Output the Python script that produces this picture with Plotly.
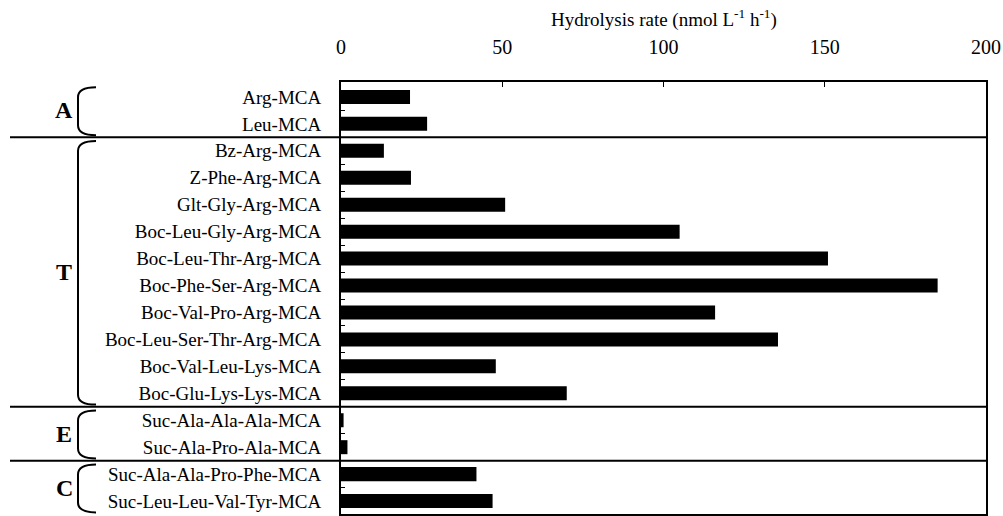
import plotly.graph_objects as go

substrates = [
    "Arg-MCA", "Leu-MCA",
    "Bz-Arg-MCA", "Z-Phe-Arg-MCA", "Glt-Gly-Arg-MCA", "Boc-Leu-Gly-Arg-MCA",
    "Boc-Leu-Thr-Arg-MCA", "Boc-Phe-Ser-Arg-MCA", "Boc-Val-Pro-Arg-MCA",
    "Boc-Leu-Ser-Thr-Arg-MCA", "Boc-Val-Leu-Lys-MCA", "Boc-Glu-Lys-Lys-MCA",
    "Suc-Ala-Ala-Ala-MCA", "Suc-Ala-Pro-Ala-MCA",
    "Suc-Ala-Ala-Pro-Phe-MCA", "Suc-Leu-Leu-Val-Tyr-MCA",
]
rates = [21.4, 26.7,
         13.3, 21.7, 50.9, 105.0, 151.0, 185.0, 116.0, 135.5, 48.0, 70.0,
         0.8, 2.0,
         42.0, 47.0]
groups = ["A", "T", "E", "C"]
group_sizes = [2, 10, 2, 2]
x_ticks = [0, 50, 100, 150, 200]

SERIF = "Liberation Serif, Times New Roman, serif"
W, H = 1003, 516
ML, MR, MT, MB = 341, 17, 82, 0
PW, PH = W - ML - MR, H - MT - MB
Y_TOP, Y_BOT = -0.554, 15.48  # category units at top / bottom of plot


def px_x(px):
    return (px - ML) / PW


def yp(v):
    return (Y_BOT - v) / (Y_BOT - Y_TOP)


fig = go.Figure()
fig.add_trace(go.Bar(
    x=rates, y=list(range(len(substrates))), orientation="h",
    marker=dict(color="black", line=dict(width=0)), width=0.52,
    showlegend=False,
))

shapes = []
annotations = []
start = 0
for gi, (g, n) in enumerate(zip(groups, group_sizes)):
    end = start + n - 1
    if gi < len(groups) - 1:
        shapes.append(dict(type="line", xref="paper", yref="paper",
                           x0=px_x(10), x1=1.0, y0=yp(end + 0.5), y1=yp(end + 0.5),
                           line=dict(color="black", width=2)))
    top = yp(start - 0.36)
    bot = yp(end + 0.42)
    bot = max(bot, -0.02)
    xv = px_x(78)
    xe = px_x(96)
    r = 10 / PH
    path = (f"M {xe},{top} Q {xv},{top} {xv},{top - r} "
            f"L {xv},{bot + r} Q {xv},{bot} {xe},{bot}")
    shapes.append(dict(type="path", xref="paper", yref="paper", path=path,
                       line=dict(color="black", width=2)))
    annotations.append(dict(text=f"<b>{g}</b>", xref="paper", yref="paper",
                            x=px_x(64), y=yp((start + end) / 2), showarrow=False,
                            xanchor="center", yanchor="middle",
                            font=dict(family=SERIF, size=24, color="black")))
    start += n

annotations.append(dict(text="Hydrolysis rate (nmol L<sup>-1</sup> h<sup>-1</sup>)",
                        xref="paper", yref="paper", x=0.5, y=1 + (MT - 18) / PH,
                        showarrow=False, xanchor="center", yanchor="middle",
                        font=dict(family=SERIF, size=19, color="black")))

boundaries = [i + 0.5 for i in range(len(substrates) - 1)]

fig.update_layout(
    width=W, height=H,
    margin=dict(l=ML, r=MR, t=MT, b=MB, pad=0),
    plot_bgcolor="white", paper_bgcolor="white",
    xaxis=dict(side="top", range=[0, 200], tickvals=x_ticks,
               ticktext=[str(v) for v in x_ticks],
               ticks="inside", ticklen=5, tickcolor="black", tickwidth=1,
               showline=True, linecolor="black", linewidth=2, mirror=True,
               showgrid=False, zeroline=False, ticklabelstandoff=18,
               tickfont=dict(family=SERIF, size=20, color="black")),
    yaxis=dict(range=[Y_BOT, Y_TOP], tickvals=list(range(len(substrates))),
               ticktext=substrates,
               ticks="", showline=True, linecolor="black", linewidth=2,
               mirror=True, showgrid=False, zeroline=False,
               ticklabelstandoff=14,
               minor=dict(tickvals=boundaries, ticks="inside", ticklen=4,
                          tickcolor="black", tickwidth=1, showgrid=False),
               tickfont=dict(family=SERIF, size=19, color="black")),
    shapes=shapes, annotations=annotations,
)

fig.write_html("out.html")
